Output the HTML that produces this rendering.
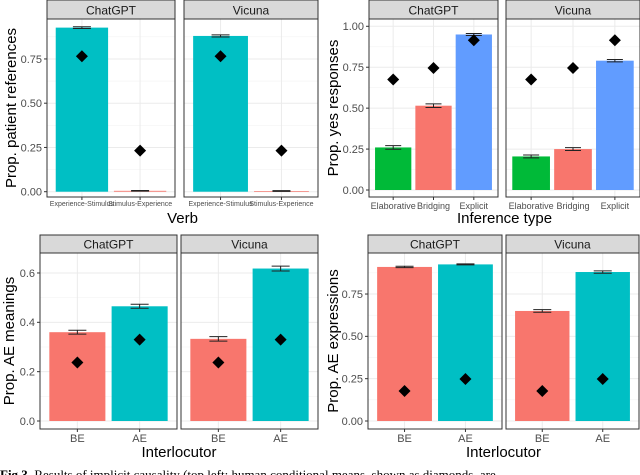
<!DOCTYPE html>
<html><head><meta charset="utf-8"><style>
body{margin:0;background:#fff;width:640px;height:475px;overflow:hidden}
svg{display:block;font-family:"Liberation Sans",sans-serif}
</style></head><body>
<svg id="fig" width="640" height="475" viewBox="0 0 640 475">
<text x="0" y="479" font-family="Liberation Serif,serif" font-size="13" fill="#000"><tspan font-weight="bold">Fig 3.</tspan> Results of implicit causality (top left; human conditional means, shown as diamonds, are</text>
</svg>
<script>
// Chart 1: implicit causality
const c1Cats = ["Experience-Stimulus","Stimulus-Experience"];
const c1Chat = [0.927,0.005];
const c1ChatErr = [0.005,0.002];
const c1Vic = [0.880,0.004];
const c1VicErr = [0.006,0.002];
const c1Human = [0.765,0.232];
const c1Ticks = ["0.00","0.25","0.50","0.75"];
// Chart 2: inference
const c2Cats = ["Elaborative","Bridging","Explicit"];
const c2Chat = [0.26,0.515,0.95];
const c2ChatErr = [0.011,0.011,0.006];
const c2Vic = [0.205,0.25,0.79];
const c2VicErr = [0.009,0.009,0.007];
const c2Human = [0.675,0.745,0.915];
const c2Ticks = ["0.00","0.25","0.50","0.75","1.00"];
// Chart 3: AE meanings
const c3Cats = ["BE","AE"];
const c3Chat = [0.36,0.465];
const c3ChatErr = [0.008,0.008];
const c3Vic = [0.333,0.618];
const c3VicErr = [0.009,0.01];
const c3Human = [0.237,0.33];
const c3Ticks = ["0.0","0.2","0.4","0.6"];
// Chart 4: AE expressions
const c4Cats = ["BE","AE"];
const c4Chat = [0.91,0.925];
const c4ChatErr = [0.004,0.003];
const c4Vic = [0.65,0.88];
const c4VicErr = [0.008,0.007];
const c4Human = [0.177,0.248];
const c4Ticks = ["0.00","0.25","0.50","0.75"];

const NS="http://www.w3.org/2000/svg";
const svg=document.getElementById('fig');
function mk(tag,attrs,parent){const e=document.createElementNS(NS,tag);for(const k in attrs)e.setAttribute(k,attrs[k]);(parent||svg).appendChild(e);return e;}

function chart(o){
  const g=mk('g',{});
  
  
  const yS=v=>o.y0-v*o.scale;
  const panels=[["ChatGPT",o.chat,o.chatErr,o.px[0]],["Vicuna",o.vic,o.vicErr,o.px[1]]];
  panels.forEach((p,pi)=>{
    const [lab,vals,errs,[x0,x1]]=p;
    const pg=mk('g',{},g);
    
    
    mk('rect',{x:x0,y:o.top,width:x1-x0,height:o.bot-o.top,fill:'#fff'},pg);
    const n=o.cats.length, unit=(x1-x0)/(n+0.2), xS=i=>x0+(i+0.6)*unit;
    for(let t=0;t<o.ticks.length;t++){
      const v=parseFloat(o.ticks[t]);
      mk('line',{x1:x0,x2:x1,y1:yS(v),y2:yS(v),stroke:'#ebebeb','stroke-width':1},pg);
      const vm=v+o.step/2; if(yS(vm)>o.top) mk('line',{x1:x0,x2:x1,y1:yS(vm),y2:yS(vm),stroke:'#f3f3f3','stroke-width':0.6},pg);
    }
    for(let i=0;i<n;i++) mk('line',{x1:xS(i),x2:xS(i),y1:o.top,y2:o.bot,stroke:'#ebebeb','stroke-width':1},pg);
    for(let i=0;i<n;i++){
      const bw=unit*0.9, v=vals[i];
      const b=mk('rect',{x:xS(i)-bw/2,y:yS(v),width:bw,height:yS(0)-yS(v),fill:o.colors[i]},pg);
      
      
      const e=errs[i], hw=o.ew;
      const eb=mk('path',{d:`M${xS(i)-hw},${yS(v+e)}H${xS(i)+hw}M${xS(i)},${yS(v+e)}V${yS(v-e)}M${xS(i)-hw},${yS(v-e)}H${xS(i)+hw}`,stroke:'#222','stroke-width':1,fill:'none'},pg);
      
      
      const hx=xS(i),hy=yS(o.human[i]),d=6;
      const dm=mk('polygon',{points:`${hx},${hy-d} ${hx+d},${hy} ${hx},${hy+d} ${hx-d},${hy}`,fill:'#000'},pg);
      
      
      const tk=mk('text',{x:xS(i),y:o.bot+o.xlabDy,'text-anchor':'middle','font-size':o.xfs,fill:'#4d4d4d'},pg);
      tk.textContent=o.cats[i];
      
      
      mk('line',{x1:xS(i),x2:xS(i),y1:o.bot,y2:o.bot+3,stroke:'#333'},pg);
    }
    mk('rect',{x:x0,y:o.top,width:x1-x0,height:o.bot-o.top,fill:'none',stroke:'#333','stroke-width':1},pg);
    mk('rect',{x:x0,y:o.stripTop,width:x1-x0,height:o.top-o.stripTop,fill:'#d9d9d9',stroke:'#333','stroke-width':1},pg);
    const st=mk('text',{x:(x0+x1)/2,y:o.top-4.5,'text-anchor':'middle','font-size':12,fill:'#1a1a1a'},pg);
    st.textContent=lab;
    
    
    if(pi===0){
      o.ticks.forEach(t=>{
        const v=parseFloat(t);
        mk('line',{x1:x0-3,x2:x0,y1:yS(v),y2:yS(v),stroke:'#333'},g);
        const tl=mk('text',{x:x0-5,y:yS(v)+3.8,'text-anchor':'end','font-size':11,fill:'#4d4d4d'},g);
        tl.textContent=t;
        
        
      });
    }
  });
  const yt=mk('text',{x:0,y:0,'text-anchor':'middle','font-size':15,fill:'#000',transform:`translate(${o.ytx},${(o.top+o.bot)/2}) rotate(-90)`},g);
  yt.textContent=o.ytitle;
  
  
  const xt=mk('text',{x:(o.px[0][0]+o.px[1][1])/2,y:o.xty,'text-anchor':'middle','font-size':15,fill:'#000'},g);
  xt.textContent=o.xtitle;
  
  
}
const RED='#f8766d',TEAL='#00bfc4',GREEN='#00ba38',BLUE='#619cff';
chart({name:'implicit-causality-chart',cats:c1Cats,chat:c1Chat,chatErr:c1ChatErr,vic:c1Vic,vicErr:c1VicErr,human:c1Human,ticks:c1Ticks,step:0.25,
  px:[[47,175],[184,318]],stripTop:0,top:19,bot:197,y0:191.7,scale:177,colors:[TEAL,RED],ew:9,xfs:7,xlabDy:9,ytx:16,ytitle:'Prop. patient references',xtitle:'Verb',xty:223});
chart({name:'inference-chart',cats:c2Cats,chat:c2Chat,chatErr:c2ChatErr,vic:c2Vic,vicErr:c2VicErr,human:c2Human,ticks:c2Ticks,step:0.25,
  px:[[369,498],[506,640]],stripTop:0,top:19,bot:197,y0:190,scale:163.7,colors:[GREEN,RED,BLUE],ew:8,xfs:9,xlabDy:12,ytx:338,ytitle:'Prop. yes responses',xtitle:'Inference type',xty:223});
chart({name:'ae-meanings-chart',cats:c3Cats,chat:c3Chat,chatErr:c3ChatErr,vic:c3Vic,vicErr:c3VicErr,human:c3Human,ticks:c3Ticks,step:0.2,
  px:[[40,177],[181,318]],stripTop:235,top:253,bot:429,y0:421,scale:246.7,colors:[RED,TEAL],ew:9,xfs:11,xlabDy:13,ytx:14,ytitle:'Prop. AE meanings',xtitle:'Interlocutor',xty:457});
chart({name:'ae-expressions-chart',cats:c4Cats,chat:c4Chat,chatErr:c4ChatErr,vic:c4Vic,vicErr:c4VicErr,human:c4Human,ticks:c4Ticks,step:0.25,
  px:[[368,502],[506,639]],stripTop:235,top:253,bot:429,y0:421,scale:169.3,colors:[RED,TEAL],ew:9,xfs:11,xlabDy:13,ytx:338,ytitle:'Prop. AE expressions',xtitle:'Interlocutor',xty:457});
</script>
</body></html>
